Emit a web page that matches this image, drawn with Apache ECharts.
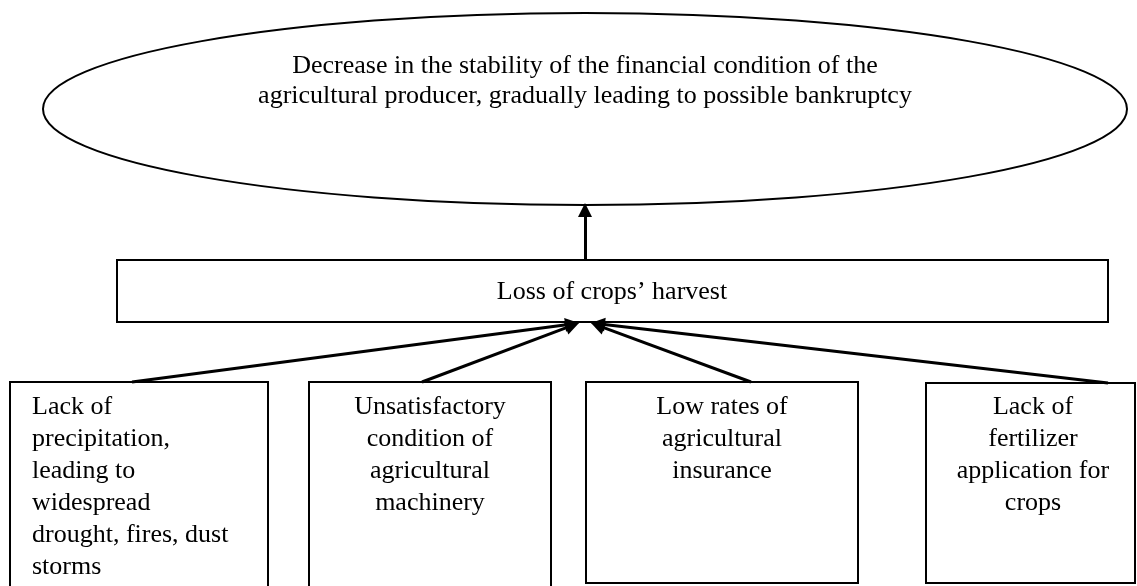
<!DOCTYPE html>
<html>
<head>
<meta charset="utf-8">
<script src="https://cdn.jsdelivr.net/npm/echarts@6/dist/echarts.min.js"></script>
<style>
  html, body { margin: 0; padding: 0; background: #fff; }
  #chart { width: 1137px; height: 586px; }
</style>
</head>
<body>
<div id="chart"></div>
<script>
// texts of the diagram
var effectText = ['Decrease in the stability of the financial condition of the',
    'agricultural producer, gradually leading to possible bankruptcy'];
var middleText = ['Loss of crops\u2019 harvest'];
var causeTexts = [
    ['Lack of', 'precipitation,', 'leading to', 'widespread', 'drought, fires, dust', 'storms'],
    ['Unsatisfactory', 'condition of', 'agricultural', 'machinery'],
    ['Low rates of', 'agricultural', 'insurance'],
    ['Lack of', 'fertilizer', 'application for', 'crops']
];
// which node each arrow goes from -> to
var links = [[1, 0], [2, 1], [3, 1], [4, 1], [5, 1]];

// layout (pixels of the page, used as axis units)
var shapes = [
    // x0, y0, x1, y1
    [43, 13, 1127, 205],
    [117, 260, 1108, 322],
    [10, 382, 268, 592],
    [309, 382, 551, 592],
    [586, 382, 858, 583],
    [926, 383, 1135, 583]
];
var textPos = [
    // x, top, align
    [585, 51, 'center'],
    [612, 276, 'center'],
    [32, 391, 'left'],
    [430, 391, 'center'],
    [722, 391, 'center'],
    [1033, 391, 'center']
];
var arrowEnds = [
    // from, tip
    [[585, 260], [585, 203]],
    [[132, 382], [579, 323]],
    [[422, 382], [579, 323]],
    [[751, 382], [591, 323]],
    [[1108, 383], [591, 323]]
];

var nodeTexts = [effectText, middleText].concat(causeTexts);
var headSize = 14;

var chart = echarts.init(document.getElementById('chart'));

// shorten lines so the arrow tip lands on the target point
var lineData = arrowEnds.map(function (a, i) {
    var dx = a[1][0] - a[0][0], dy = a[1][1] - a[0][1];
    var len = Math.sqrt(dx * dx + dy * dy);
    var k = (headSize / 2) / len;
    return {
        name: links[i].join('-'),
        coords: [a[0], [a[1][0] - dx * k, a[1][1] - dy * k]]
    };
});

var option = {
    animation: false,
    backgroundColor: '#fff',
    grid: { left: 0, right: 0, top: 0, bottom: 0 },
    xAxis: { type: 'value', min: 0, max: 1137, show: false },
    yAxis: { type: 'value', min: 0, max: 586, inverse: true, show: false },
    series: [
        {
            type: 'custom',
            data: shapes,
            encode: { x: [0, 2], y: [1, 3] },
            renderItem: function (params, api) {
                var i = params.dataIndex;
                var p0 = api.coord([api.value(0), api.value(1)]);
                var p1 = api.coord([api.value(2), api.value(3)]);
                var t = api.coord([textPos[i][0], textPos[i][1]]);
                var shape;
                if (i === 0) {
                    shape = {
                        type: 'ellipse',
                        shape: {
                            cx: (p0[0] + p1[0]) / 2, cy: (p0[1] + p1[1]) / 2,
                            rx: (p1[0] - p0[0]) / 2, ry: (p1[1] - p0[1]) / 2
                        },
                        style: { fill: '#fff', stroke: '#000', lineWidth: 2 }
                    };
                } else {
                    shape = {
                        type: 'rect',
                        shape: { x: p0[0], y: p0[1], width: p1[0] - p0[0], height: p1[1] - p0[1] },
                        style: { fill: '#fff', stroke: '#000', lineWidth: 2 }
                    };
                }
                return {
                    type: 'group',
                    children: [shape, {
                        type: 'text',
                        style: {
                            text: nodeTexts[i].join('\n'),
                            x: t[0], y: t[1],
                            align: textPos[i][2],
                            verticalAlign: 'top',
                            font: '26px "Liberation Serif", "Times New Roman", serif',
                            lineHeight: i === 0 ? 30 : 32,
                            fill: '#000'
                        }
                    }]
                };
            }
        },
        {
            type: 'lines',
            coordinateSystem: 'cartesian2d',
            symbol: ['none', 'triangle'],
            symbolSize: headSize,
            lineStyle: { color: '#000', width: 3, opacity: 1 },
            data: lineData,
            z: 5
        }
    ]
};

chart.setOption(option);
</script>
</body>
</html>
